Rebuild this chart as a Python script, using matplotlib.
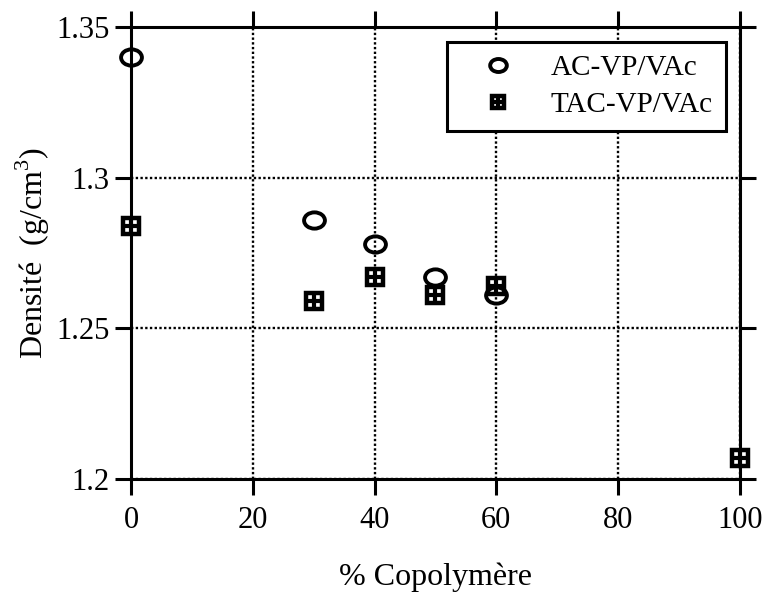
import matplotlib
matplotlib.use("Agg")
import matplotlib.pyplot as plt
from matplotlib.path import Path
from matplotlib.legend_handler import HandlerTuple

plt.rcParams["font.family"] = ["Liberation Serif", "DejaVu Serif"]
plt.rcParams["mathtext.fontset"] = "custom"
plt.rcParams["mathtext.rm"] = "Liberation Serif"

# data
ac_x = [0, 30, 40, 50, 60]
ac_y = [1.340, 1.286, 1.278, 1.267, 1.261]
tac_x = [0, 30, 40, 50, 60, 100]
tac_y = [1.284, 1.259, 1.267, 1.261, 1.264, 1.207]

x_ticks = [0, 20, 40, 60, 80, 100]
y_ticks = [1.2, 1.25, 1.3, 1.35]
y_tick_labels = ["1.2", "1.25", "1.3", "1.35"]

# slightly flattened circle, like the original plot symbol
circ = Path.unit_circle()
ellipse = Path(circ.vertices * [1.0, 0.78], circ.codes)

fig = plt.figure(figsize=(7.62, 5.92), dpi=100)
ax = fig.add_axes([0.172, 0.191, 0.799, 0.763])

ax.set_xlim(0, 100)
ax.set_ylim(1.2, 1.35)
ax.set_xticks(x_ticks)
ax.set_yticks(y_ticks)
ax.set_yticklabels(y_tick_labels)

ax.grid(True, linestyle=(0, (1, 1)), color="black", linewidth=1.7)
ax.set_axisbelow(True)

for s in ax.spines.values():
    s.set_linewidth(2.2)
ax.tick_params(which="both", direction="out", length=11.5, width=2.2,
               top=True, right=True, labelsize=22, color="black")
ax.tick_params(axis="x", pad=8)
ax.tick_params(axis="y", pad=4)

h_ac, = ax.plot(ac_x, ac_y, linestyle="none", marker=ellipse, markersize=15,
                mfc="none", mec="black", mew=2.8, clip_on=False, zorder=4)
h_sq, = ax.plot(tac_x, tac_y, linestyle="none", marker="s", markersize=11,
                mfc="white", mec="black", mew=3.2, clip_on=False, zorder=3)
h_pl, = ax.plot(tac_x, tac_y, linestyle="none", marker="+", markersize=11,
                mec="black", mew=3.0, clip_on=False, zorder=3)

leg = ax.legend([h_ac, (h_sq, h_pl)], ["AC-VP/VAc", "TAC-VP/VAc"],
                handler_map={tuple: HandlerTuple(ndivide=1, pad=0)},
                loc="upper right", bbox_to_anchor=(0.977, 0.968),
                fontsize=21, fancybox=False, framealpha=1, edgecolor="black",
                borderpad=0.45, labelspacing=0.35, handlelength=2.6,
                handletextpad=0.5, borderaxespad=0, markerscale=0.8)
leg.get_frame().set_linewidth(2.2)

ax.set_xlabel("% Copolymère", fontsize=23, labelpad=20)
ax.set_ylabel("Densité  (g/cm$^3$)", fontsize=23, labelpad=3)

fig.savefig("out.png", dpi=100)
